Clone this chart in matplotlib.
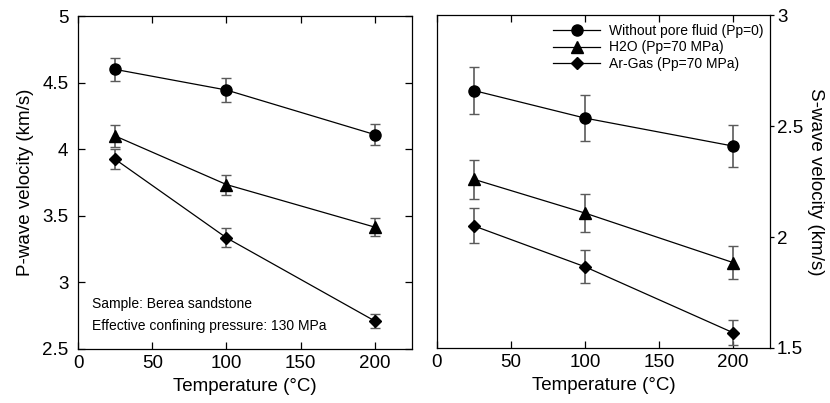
import numpy as np
import matplotlib.pyplot as plt

plt.rcParams['font.family'] = ['Liberation Sans', 'DejaVu Sans']

temp = [25, 100, 200]
labels = ["Without pore fluid (Pp=0)", "H2O (Pp=70 MPa)", "Ar-Gas (Pp=70 MPa)"]
markers = ['o', '^', 'D']
msizes = [8, 8.5, 6.5]

# P-wave velocity (km/s)
vp_dry = [4.60, 4.445, 4.11]
vp_h2o = [4.10, 3.735, 3.415]
vp_ar = [3.925, 3.335, 2.71]
vp_dry_err = [0.085, 0.09, 0.08]
vp_h2o_err = [0.085, 0.075, 0.07]
vp_ar_err = [0.075, 0.07, 0.05]

# S-wave velocity (km/s)
vs_dry = [2.66, 2.536, 2.41]
vs_h2o = [2.26, 2.108, 1.885]
vs_ar = [2.05, 1.866, 1.569]
vs_dry_err = [0.105, 0.104, 0.095]
vs_h2o_err = [0.089, 0.084, 0.074]
vs_ar_err = [0.079, 0.075, 0.057]

vp = [vp_dry, vp_h2o, vp_ar]
vp_err = [vp_dry_err, vp_h2o_err, vp_ar_err]
vs = [vs_dry, vs_h2o, vs_ar]
vs_err = [vs_dry_err, vs_h2o_err, vs_ar_err]

fig = plt.figure(figsize=(8.3, 4.03), dpi=100)
ax1 = fig.add_axes([0.094, 0.134, 0.4024, 0.826])
ax2 = fig.add_axes([0.5265, 0.1365, 0.4012, 0.826])

for ax, vals, errs in [(ax1, vp, vp_err), (ax2, vs, vs_err)]:
    for v, e, m, ms, lab in zip(vals, errs, markers, msizes, labels):
        ax.errorbar(temp, v, yerr=e, fmt='none', ecolor='#5a5a5a', elinewidth=1.2,
                    capsize=3.5, capthick=1.0, zorder=2)
        ax.plot(temp, v, color='black', lw=0.9, marker=m, ms=ms, mfc='black',
                mec='black', label=lab, zorder=3)
    ax.set_xlim(0, 225)
    ax.set_xticks([0, 50, 100, 150, 200])
    for s in ax.spines.values():
        s.set_linewidth(0.9)
    ax.set_xlabel("Temperature (\u00b0C)", fontsize=13.5, labelpad=5)

# left panel
ax1.set_ylim(2.5, 5)
ax1.set_yticks([2.5, 3, 3.5, 4, 4.5, 5])
ax1.set_yticklabels(['2.5', '3', '3.5', '4', '4.5', '5'])
ax1.tick_params(axis='both', direction='in', length=5, width=0.9, labelsize=13.5,
                top=True, right=True)
ax1.tick_params(axis='y', pad=7)
ax1.tick_params(axis='x', pad=4)
ax1.set_ylabel("P-wave velocity (km/s)", fontsize=13.5, labelpad=6)
ax1.text(0.041, 0.135, "Sample: Berea sandstone", transform=ax1.transAxes,
         fontsize=10, va='center')
ax1.text(0.041, 0.069, "Effective confining pressure: 130 MPa", transform=ax1.transAxes,
         fontsize=10, va='center')

# right panel
ax2.set_ylim(1.5, 3)
ax2.set_yticks([1.5, 2, 2.5, 3])
ax2.set_yticklabels(['1.5', '2', '2.5', '3'])
ax2.yaxis.tick_right()
ax2.yaxis.set_label_position('right')
ax2.tick_params(axis='y', direction='out', length=3, width=0.9, labelsize=13.5, pad=2,
                left=False, right=True)
ax2.tick_params(axis='x', direction='in', length=5, width=0.9, labelsize=13.5, pad=4,
                top=True)
ax2.set_ylabel("S-wave velocity (km/s)", fontsize=13.5, rotation=270, labelpad=15)
ax2.legend(loc='upper right', frameon=False, fontsize=10, handlelength=3.4,
           labelspacing=0.2, borderaxespad=0.1, handletextpad=0.6,
           bbox_to_anchor=(1.0, 0.995))

fig.savefig('out.png', dpi=100)
